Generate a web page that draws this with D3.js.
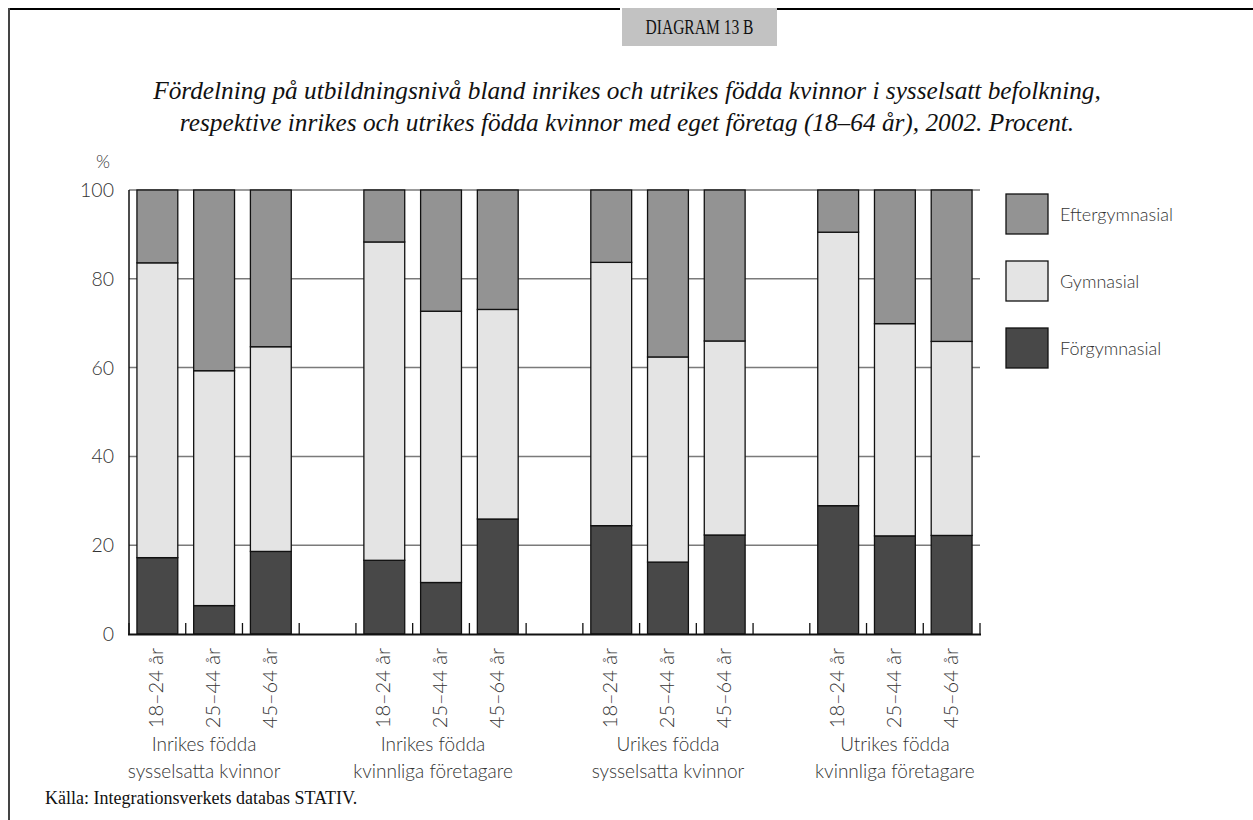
<!DOCTYPE html>
<html><head><meta charset="utf-8">
<script src="https://cdn.jsdelivr.net/npm/d3@7"></script>
<style>
body{margin:0;background:#fff;}
svg{display:block;}
.sans{font-family:Lato,"Open Sans",sans-serif;font-weight:300;}
.serif{font-family:"Liberation Serif","DejaVu Serif",serif;}
</style></head>
<body>
<svg id="chart" width="1253" height="820"></svg>
<script>
// ---- data ----
const groups = ["Inrikes födda|sysselsatta kvinnor","Inrikes födda|kvinnliga företagare","Urikes födda|sysselsatta kvinnor","Utrikes födda|kvinnliga företagare"];
const ages = ["18–24 år","25–44 år","45–64 år"];
const forgymnasial = [17.2, 6.4, 18.6, 16.6, 11.6, 25.9, 24.4, 16.2, 22.3, 28.9, 22.1, 22.2];
const gymnasial    = [66.4, 52.9, 46.1, 71.7, 61.1, 47.2, 59.3, 46.2, 43.7, 61.6, 47.8, 43.7];
const eftergymnasial=[16.4, 40.7, 35.3, 11.7, 27.3, 26.9, 16.3, 37.6, 34.0, 9.5, 30.1, 34.1];
const seriesNames = ["Förgymnasial","Gymnasial","Eftergymnasial"];
const seriesColors = ["#484848","#e4e4e4","#939393"];
const yTicks = [0,20,40,60,80,100];

const svg = d3.select("#chart");

// frame
svg.append("line").attr("x1",9).attr("x2",620).attr("y1",9).attr("y2",9).attr("stroke","#000").attr("stroke-width",2);
svg.append("line").attr("x1",777).attr("x2",1253).attr("y1",9).attr("y2",9).attr("stroke","#000").attr("stroke-width",2);
svg.append("line").attr("x1",9).attr("x2",9).attr("y1",8).attr("y2",820).attr("stroke","#444").attr("stroke-width",2);
svg.append("rect").attr("x",622).attr("y",8).attr("width",155).attr("height",38).attr("fill","#c2c2c2");
svg.append("text").attr("class","serif").attr("x",699.5).attr("y",34).attr("text-anchor","middle")
  .attr("font-size",20).attr("textLength",108).attr("lengthAdjust","spacingAndGlyphs")
  .attr("fill","#111").text("DIAGRAM 13 B");

// title
const t = svg.append("text").attr("class","serif").attr("font-style","italic").attr("font-size",25.3)
  .attr("text-anchor","middle").attr("fill","#111");
t.append("tspan").attr("x",627).attr("y",99).text("Fördelning på utbildningsnivå bland inrikes och utrikes födda kvinnor i sysselsatt befolkning,");
t.append("tspan").attr("x",627).attr("y",131).text("respektive inrikes och utrikes födda kvinnor med eget företag (18–64 år), 2002. Procent.");

// scales
const slots = [];
groups.forEach((g,gi)=>{
  ages.forEach((a,ai)=>slots.push({key:"g"+gi+"a"+ai, g:gi, a:ai, idx:gi*3+ai}));
  if(gi<groups.length-1) slots.push({key:"gap"+gi, gap:true});
});
const x = d3.scaleBand().domain(slots.map(s=>s.key)).range([129,980]).paddingInner(0).paddingOuter(0);
const y = d3.scaleLinear().domain([0,100]).range([634,190]);
const bw = x.bandwidth()*0.72;

// gridlines
svg.append("g").selectAll("line").data(yTicks.filter(v=>v>0)).join("line")
  .attr("x1",129).attr("x2",980).attr("y1",d=>y(d)).attr("y2",d=>y(d))
  .attr("stroke","#7a7a7a").attr("stroke-width",1.5);

// y labels
svg.append("g").selectAll("text").data(yTicks).join("text").attr("class","sans")
  .attr("x",114).attr("y",d=>y(d)+7).attr("text-anchor","end").attr("font-size",19.5).attr("fill","#333")
  .text(d=>d);
svg.append("text").attr("class","sans").attr("x",103).attr("y",168).attr("text-anchor","middle")
  .attr("font-size",18).attr("fill","#333").text("%");

// bars
const data = slots.filter(s=>!s.gap).map(s=>({key:s.key, g:s.g, a:s.a,
  "Förgymnasial":forgymnasial[s.idx],"Gymnasial":gymnasial[s.idx],"Eftergymnasial":eftergymnasial[s.idx]}));
const stack = d3.stack().keys(seriesNames)(data);
stack.forEach((layer,li)=>{
  svg.append("g").selectAll("rect").data(layer).join("rect")
    .attr("x",d=>x(d.data.key)+(x.bandwidth()-bw)/2)
    .attr("width",bw)
    .attr("y",d=>y(d[1]))
    .attr("height",d=>y(d[0])-y(d[1]))
    .attr("fill",seriesColors[li]).attr("stroke","#111").attr("stroke-width",1.3);
});

// axes lines
svg.append("line").attr("x1",129).attr("x2",129).attr("y1",190).attr("y2",635).attr("stroke","#111").attr("stroke-width",1.5);
svg.append("line").attr("x1",128).attr("x2",981).attr("y1",634.5).attr("y2",634.5).attr("stroke","#111").attr("stroke-width",2);
// bottom ticks at slot boundaries
const bounds = slots.map(s=>x(s.key)).concat([980]);
svg.append("g").selectAll("line").data(bounds).join("line")
  .attr("x1",d=>d).attr("x2",d=>d).attr("y1",623).attr("y2",634)
  .attr("stroke","#111").attr("stroke-width",1.3);

// x labels (rotated)
svg.append("g").selectAll("text").data(data).join("text").attr("class","sans")
  .attr("transform",d=>`translate(${x(d.key)+x.bandwidth()/2+6},648) rotate(-90)`)
  .attr("text-anchor","end").attr("font-size",20).attr("fill","#333")
  .text(d=>ages[d.a]);

// group labels (slightly shifted as in the original)
const labelShift = [-10,-8,0,0];
groups.forEach((g,gi)=>{
  const cx = (x("g"+gi+"a0") + x("g"+gi+"a2")+x.bandwidth())/2 + labelShift[gi];
  const lines = g.split("|");
  const tt = svg.append("text").attr("class","sans").attr("text-anchor","middle").attr("font-size",19).attr("fill","#333");
  lines.forEach((l,li)=>tt.append("tspan").attr("x",cx).attr("y",751+li*27).text(l));
});

// legend
const legendItems = ["Eftergymnasial","Gymnasial","Förgymnasial"];
const legendColors = {"Eftergymnasial":"#939393","Gymnasial":"#e4e4e4","Förgymnasial":"#484848"};
const lg = svg.append("g").selectAll("g").data(legendItems).join("g")
  .attr("transform",(d,i)=>`translate(1006,${194+i*67})`);
lg.append("rect").attr("width",42).attr("height",40).attr("fill",d=>legendColors[d]).attr("stroke","#111").attr("stroke-width",1.3);
lg.append("text").attr("class","sans").attr("x",54).attr("y",27).attr("font-size",18).attr("fill","#333").text(d=>d);

// source
svg.append("text").attr("class","serif").attr("x",45).attr("y",804).attr("font-size",18).attr("fill","#111")
  .text("Källa: Integrationsverkets databas STATIV.");
</script>
</body></html>
